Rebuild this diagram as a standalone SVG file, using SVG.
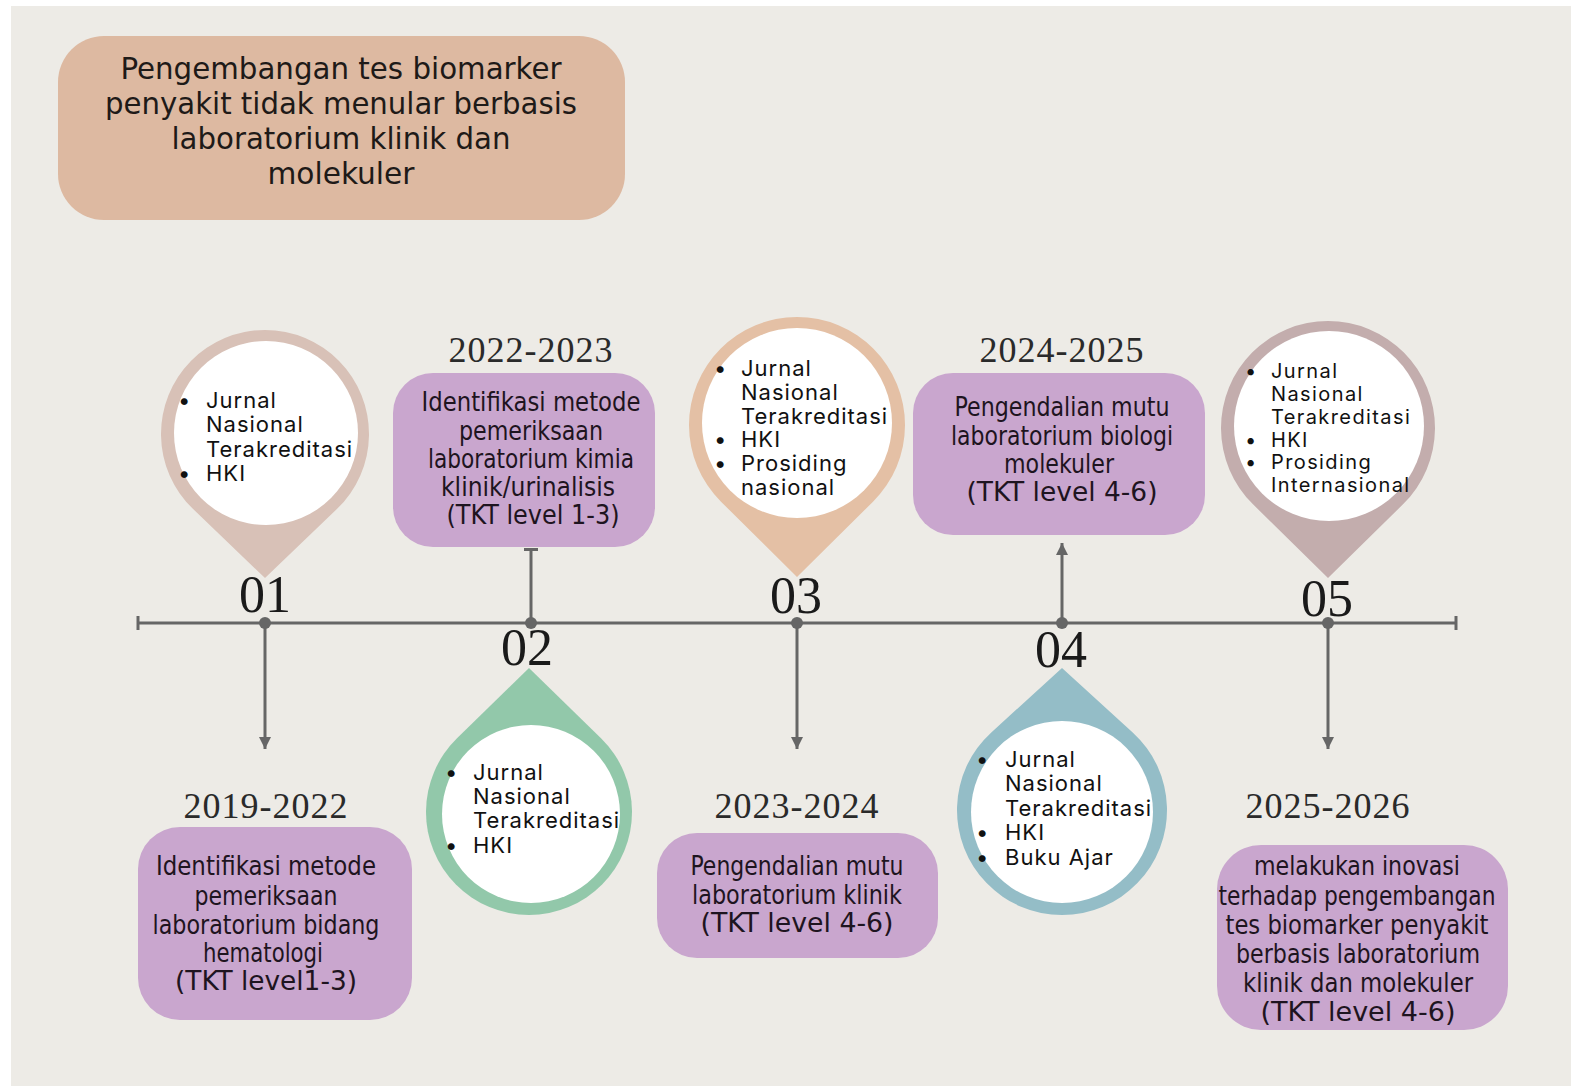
<svg xmlns="http://www.w3.org/2000/svg" width="1571" height="1086" viewBox="0 0 1571 1086">
<defs>
<style>
.bg{fill:#EDEBE6}
.box{fill:#C9A6CE}
.hand{font-family:"DejaVu Sans Condensed","Liberation Sans Narrow","Liberation Sans",sans-serif;font-size:26px;fill:#1E1420;text-anchor:middle}
.title{font-family:"DejaVu Sans Condensed","Liberation Sans Narrow","Liberation Sans",sans-serif;font-size:31px;fill:#1E1A18;text-anchor:middle}
.yr{font-family:"Liberation Serif","DejaVu Serif",serif;font-size:36px;fill:#2A2A2A;text-anchor:middle;letter-spacing:1px}
.num{font-family:"Liberation Serif","DejaVu Serif",serif;font-size:52px;fill:#1A1A1A;text-anchor:middle}
.li{font-family:Inter,"Noto Sans","Liberation Sans",sans-serif;font-size:22px;fill:#111;letter-spacing:1px}
.li5{font-family:Inter,"Noto Sans","Liberation Sans",sans-serif;font-size:20px;fill:#111;letter-spacing:1.4px}
.wc{fill:#FFFFFF}
.conn{stroke:#666;stroke-width:3;fill:none}
.dot{fill:#666}
</style>
<marker id="arr" markerUnits="userSpaceOnUse" markerWidth="14" markerHeight="12" refX="12" refY="6" orient="auto">
<path d="M0,0 L12,6 L0,12 z" fill="#666"/>
</marker>
<marker id="tee" markerUnits="userSpaceOnUse" markerWidth="6" markerHeight="14" refX="3" refY="7" orient="auto">
<rect x="1" y="0" width="3" height="14" fill="#666"/>
</marker>
</defs>
<rect x="0" y="0" width="1571" height="1086" fill="#FFFFFF"/>
<rect class="bg" x="11" y="6" width="1560" height="1080"/>

<g id="connectors">
<line class="conn" x1="138" y1="623" x2="1456" y2="623"/>
<line class="conn" x1="138" y1="616" x2="138" y2="630"/>
<line class="conn" x1="1456" y1="616" x2="1456" y2="630"/>
<line class="conn" x1="265" y1="623" x2="265" y2="749" marker-end="url(#arr)"/>
<line class="conn" x1="531" y1="623" x2="531" y2="549" marker-end="url(#tee)"/>
<line class="conn" x1="797" y1="623" x2="797" y2="749" marker-end="url(#arr)"/>
<line class="conn" x1="1062" y1="623" x2="1062" y2="543" marker-end="url(#arr)"/>
<line class="conn" x1="1328" y1="623" x2="1328" y2="749" marker-end="url(#arr)"/>
<circle class="dot" cx="265" cy="623" r="6"/>
<circle class="dot" cx="531" cy="623" r="6"/>
<circle class="dot" cx="797" cy="623" r="6"/>
<circle class="dot" cx="1062" cy="623" r="6"/>
<circle class="dot" cx="1328" cy="623" r="6"/>
</g>

<g id="title">
<rect x="58" y="36" width="567" height="184" rx="46" fill="#DDB9A1"/>
<text class="title" x="341" y="79" textLength="441" lengthAdjust="spacingAndGlyphs">Pengembangan tes biomarker</text>
<text class="title" x="341" y="114" textLength="472" lengthAdjust="spacingAndGlyphs">penyakit tidak menular berbasis</text>
<text class="title" x="341" y="149" textLength="339" lengthAdjust="spacingAndGlyphs">laboratorium klinik dan</text>
<text class="title" x="341" y="184" textLength="147" lengthAdjust="spacingAndGlyphs">molekuler</text>
</g>

<g id="pin01">
<path d="M265,578 L193.1,509.1 A104,104 0 1 1 336.9,509.1 Z" fill="#D8C1B7"/>
<circle class="wc" cx="266" cy="433" r="92"/>
<text class="li" x="178" y="408">•</text>
<text class="li" x="206" y="408">Jurnal</text>
<text class="li" x="206" y="432">Nasional</text>
<text class="li" x="206" y="457">Terakreditasi</text>
<text class="li" x="178" y="481">•</text>
<text class="li" x="206" y="481">HKI</text>
<text class="num" x="265" y="612">01</text>
</g>

<g id="pin02">
<path d="M529,668 L601,738.3 A103,103 0 1 1 457,738.3 Z" fill="#92C8AA"/>
<circle class="wc" cx="531" cy="814" r="89"/>
<text class="li" x="445" y="780">•</text>
<text class="li" x="473" y="780">Jurnal</text>
<text class="li" x="473" y="804">Nasional</text>
<text class="li" x="473" y="828">Terakreditasi</text>
<text class="li" x="445" y="853">•</text>
<text class="li" x="473" y="853">HKI</text>
<text class="num" x="527" y="665">02</text>
</g>

<g id="pin03">
<path d="M797,577 L721,501.7 A108,108 0 1 1 873,501.7 Z" fill="#E4C0A5"/>
<circle class="wc" cx="797" cy="423" r="95"/>
<text class="li" x="714" y="376">•</text>
<text class="li" x="741" y="376">Jurnal</text>
<text class="li" x="741" y="400">Nasional</text>
<text class="li" x="741" y="424">Terakreditasi</text>
<text class="li" x="714" y="447">•</text>
<text class="li" x="741" y="447">HKI</text>
<text class="li" x="714" y="471">•</text>
<text class="li" x="741" y="471">Prosiding</text>
<text class="li" x="741" y="495">nasional</text>
<text class="num" x="796" y="613">03</text>
</g>

<g id="pin04">
<path d="M1062,668 L1132.7,732.4 A105,105 0 1 1 991.3,732.4 Z" fill="#94BDC7"/>
<circle class="wc" cx="1062" cy="812" r="91"/>
<text class="li" x="976" y="767">•</text>
<text class="li" x="1005" y="767">Jurnal</text>
<text class="li" x="1005" y="791">Nasional</text>
<text class="li" x="1005" y="816">Terakreditasi</text>
<text class="li" x="976" y="840">•</text>
<text class="li" x="1005" y="840">HKI</text>
<text class="li" x="976" y="865">•</text>
<text class="li" x="1005" y="865">Buku Ajar</text>
<text class="num" x="1061" y="667">04</text>
</g>

<g id="pin05">
<path d="M1328,578 L1253,504.3 A107,107 0 1 1 1403,504.3 Z" fill="#C3ADAD"/>
<circle class="wc" cx="1329" cy="426" r="95"/>
<text class="li5" x="1245" y="378">•</text>
<text class="li5" x="1271" y="378">Jurnal</text>
<text class="li5" x="1271" y="401">Nasional</text>
<text class="li5" x="1271" y="424">Terakreditasi</text>
<text class="li5" x="1245" y="447">•</text>
<text class="li5" x="1271" y="447">HKI</text>
<text class="li5" x="1245" y="469">•</text>
<text class="li5" x="1271" y="469">Prosiding</text>
<text class="li5" x="1271" y="492">Internasional</text>
<text class="num" x="1327" y="616">05</text>
</g>

<g id="step2019">
<text class="yr" x="266" y="818">2019-2022</text>
<rect class="box" x="138" y="827" width="274" height="193" rx="42"/>
<text class="hand" x="266" y="875" textLength="220" lengthAdjust="spacingAndGlyphs">Identifikasi metode</text>
<text class="hand" x="266" y="905" textLength="143" lengthAdjust="spacingAndGlyphs">pemeriksaan</text>
<text class="hand" x="266" y="934" textLength="227" lengthAdjust="spacingAndGlyphs">laboratorium bidang</text>
<text class="hand" x="263" y="962" textLength="120" lengthAdjust="spacingAndGlyphs">hematologi</text>
<text class="hand" x="266" y="990" textLength="182" lengthAdjust="spacingAndGlyphs">(TKT level1-3)</text>
</g>

<g id="step2022">
<text class="yr" x="531" y="362">2022-2023</text>
<rect class="box" x="393" y="373" width="262" height="174" rx="40"/>
<text class="hand" x="531" y="411" textLength="219" lengthAdjust="spacingAndGlyphs">Identifikasi metode</text>
<text class="hand" x="531" y="440" textLength="144" lengthAdjust="spacingAndGlyphs">pemeriksaan</text>
<text class="hand" x="531" y="468" textLength="206" lengthAdjust="spacingAndGlyphs">laboratorium kimia</text>
<text class="hand" x="528" y="496" textLength="174" lengthAdjust="spacingAndGlyphs">klinik/urinalisis</text>
<text class="hand" x="533" y="524" textLength="173" lengthAdjust="spacingAndGlyphs">(TKT level 1-3)</text>
</g>

<g id="step2023">
<text class="yr" x="797" y="818">2023-2024</text>
<rect class="box" x="657" y="833" width="281" height="125" rx="40"/>
<text class="hand" x="797" y="875" textLength="213" lengthAdjust="spacingAndGlyphs">Pengendalian mutu</text>
<text class="hand" x="797" y="904" textLength="210" lengthAdjust="spacingAndGlyphs">laboratorium klinik</text>
<text class="hand" x="797" y="932" textLength="193" lengthAdjust="spacingAndGlyphs">(TKT level 4-6)</text>
</g>

<g id="step2024">
<text class="yr" x="1062" y="362">2024-2025</text>
<rect class="box" x="913" y="373" width="292" height="162" rx="40"/>
<text class="hand" x="1062" y="416" textLength="215" lengthAdjust="spacingAndGlyphs">Pengendalian mutu</text>
<text class="hand" x="1062" y="445" textLength="222" lengthAdjust="spacingAndGlyphs">laboratorium biologi</text>
<text class="hand" x="1059" y="473" textLength="110" lengthAdjust="spacingAndGlyphs">molekuler</text>
<text class="hand" x="1062" y="501" textLength="191" lengthAdjust="spacingAndGlyphs">(TKT level 4-6)</text>
</g>

<g id="step2025">
<text class="yr" x="1328" y="818">2025-2026</text>
<rect class="box" x="1217" y="845" width="291" height="185" rx="44"/>
<text class="hand" x="1357" y="875" textLength="206" lengthAdjust="spacingAndGlyphs">melakukan inovasi</text>
<text class="hand" x="1357" y="905" textLength="277" lengthAdjust="spacingAndGlyphs">terhadap pengembangan</text>
<text class="hand" x="1357" y="934" textLength="263" lengthAdjust="spacingAndGlyphs">tes biomarker penyakit</text>
<text class="hand" x="1358" y="963" textLength="244" lengthAdjust="spacingAndGlyphs">berbasis laboratorium</text>
<text class="hand" x="1358" y="992" textLength="230" lengthAdjust="spacingAndGlyphs">klinik dan molekuler</text>
<text class="hand" x="1358" y="1021" textLength="195" lengthAdjust="spacingAndGlyphs">(TKT level 4-6)</text>
</g>
</svg>
